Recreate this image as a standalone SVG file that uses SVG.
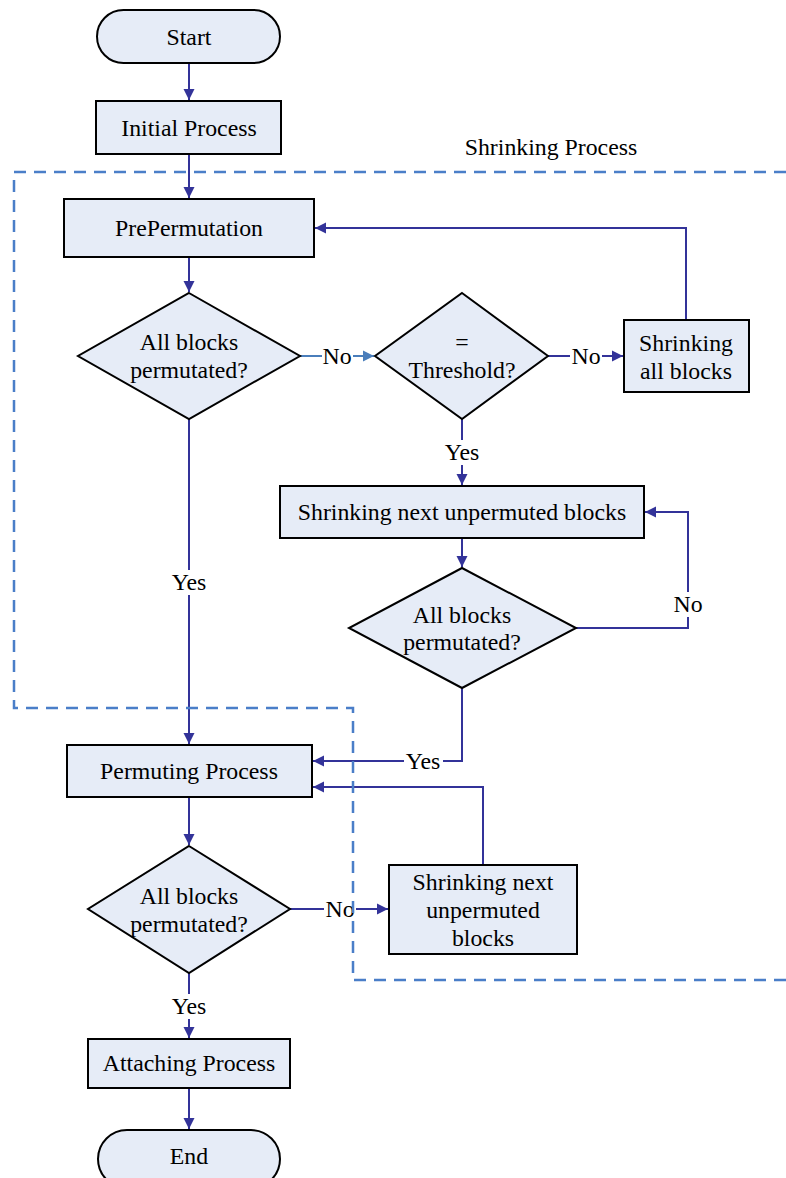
<svg xmlns="http://www.w3.org/2000/svg" width="786" height="1178" viewBox="0 0 786 1178" font-family="Liberation Serif, Times New Roman, serif">
<defs>
<style>
.t{font-family:'Liberation Serif','Times New Roman',serif;font-size:23.8px;fill:#000;text-anchor:middle}
.n{fill:#e6ecf7;stroke:#000;stroke-width:2}
.c{fill:none;stroke:#333399;stroke-width:2}
.cl{fill:none;stroke:#4a7ebb;stroke-width:2}
.b{fill:none;stroke:#4a7ec8;stroke-width:2.5;stroke-dasharray:12 8}
</style>
<marker id="a" viewBox="0 0 10 10" refX="10" refY="5" markerWidth="11" markerHeight="12" markerUnits="userSpaceOnUse" orient="auto"><path d="M0,0L10,5L0,10z" fill="#333399"/></marker>
<marker id="al" viewBox="0 0 10 10" refX="10" refY="5" markerWidth="11" markerHeight="12" markerUnits="userSpaceOnUse" orient="auto"><path d="M0,0L10,5L0,10z" fill="#4a7ebb"/></marker>
</defs>
<rect width="786" height="1178" fill="#fff"/>
<g id="connectors">
<path class="c" d="M189,63V100" marker-end="url(#a)"/>
<path class="c" d="M189,154V198" marker-end="url(#a)"/>
<path class="c" d="M189,257V292" marker-end="url(#a)"/>
<path class="cl" d="M300,356H322"/>
<path class="cl" d="M353,356H374" marker-end="url(#al)"/>
<path class="c" d="M548,356H570"/>
<path class="c" d="M602,356H623" marker-end="url(#a)"/>
<path class="c" d="M686,320V228H315" marker-end="url(#a)"/>
<path class="c" d="M462,419V440"/>
<path class="c" d="M462,465V485" marker-end="url(#a)"/>
<path class="c" d="M462,538V567" marker-end="url(#a)"/>
<path class="c" d="M576,628H688V617"/>
<path class="c" d="M688,592V512H645" marker-end="url(#a)"/>
<path class="c" d="M462,688V761H443"/>
<path class="c" d="M404,761H313" marker-end="url(#a)"/>
<path class="c" d="M189,419V570"/>
<path class="c" d="M189,595V744" marker-end="url(#a)"/>
<path class="c" d="M189,797V845" marker-end="url(#a)"/>
<path class="c" d="M290,909H324"/>
<path class="c" d="M356,909H388" marker-end="url(#a)"/>
<path class="c" d="M483,865V787H313" marker-end="url(#a)"/>
<path class="c" d="M189,973V994"/>
<path class="c" d="M189,1019V1038" marker-end="url(#a)"/>
<path class="c" d="M189,1088V1129" marker-end="url(#a)"/>
<text class="t" x="337" y="364">No</text>
<text class="t" x="586" y="364">No</text>
<text class="t" x="462" y="460">Yes</text>
<text class="t" x="688" y="612">No</text>
<text class="t" x="423" y="769">Yes</text>
<text class="t" x="189" y="590">Yes</text>
<text class="t" x="340" y="917">No</text>
<text class="t" x="189" y="1014">Yes</text>
</g>
<g id="start"><rect class="n" x="97" y="10" width="183" height="53" rx="26.5"/><text class="t" x="189" y="45">Start</text></g>
<g id="initial"><rect class="n" x="96" y="101" width="185" height="53"/><text class="t" x="189" y="136">Initial Process</text></g>
<g id="prepermutation"><rect class="n" x="64" y="199" width="250" height="58"/><text class="t" x="189" y="236">PrePermutation</text></g>
<g id="decision1"><polygon class="n" points="189,293 300,356 189,419 78,356"/><text class="t" x="189" y="350">All blocks</text><text class="t" x="189" y="378">permutated?</text></g>
<g id="decision2"><polygon class="n" points="462,293 548,356 462,419 375,356"/><text class="t" x="462" y="350">=</text><text class="t" x="462" y="378">Threshold?</text></g>
<g id="shrinkall"><rect class="n" x="624" y="320" width="125" height="72"/><text class="t" x="686" y="351">Shrinking</text><text class="t" x="686" y="379">all blocks</text></g>
<g id="shrinknext1"><rect class="n" x="280" y="486" width="364" height="52"/><text class="t" x="462" y="520">Shrinking next unpermuted blocks</text></g>
<g id="decision3"><polygon class="n" points="462,568 576,628 462,688 349,628"/><text class="t" x="462" y="623">All blocks</text><text class="t" x="462" y="650">permutated?</text></g>
<g id="permuting"><rect class="n" x="67" y="745" width="245" height="52"/><text class="t" x="189" y="779">Permuting Process</text></g>
<g id="decision4"><polygon class="n" points="189,846 290,909 189,973 88,909"/><text class="t" x="189" y="904">All blocks</text><text class="t" x="189" y="932">permutated?</text></g>
<g id="shrinknext2"><rect class="n" x="389" y="865" width="188" height="89"/><text class="t" x="483" y="890">Shrinking next</text><text class="t" x="483" y="918">unpermuted</text><text class="t" x="483" y="946">blocks</text></g>
<g id="attaching"><rect class="n" x="88" y="1039" width="202" height="49"/><text class="t" x="189" y="1071">Attaching Process</text></g>
<g id="end"><rect class="n" x="98" y="1130" width="182" height="58" rx="29"/><text class="t" x="189" y="1164">End</text></g>
<g id="shrinking-process"><path class="b" d="M786,172H14V708H353V980H786"/><text class="t" x="551" y="155">Shrinking Process</text></g>
</svg>
